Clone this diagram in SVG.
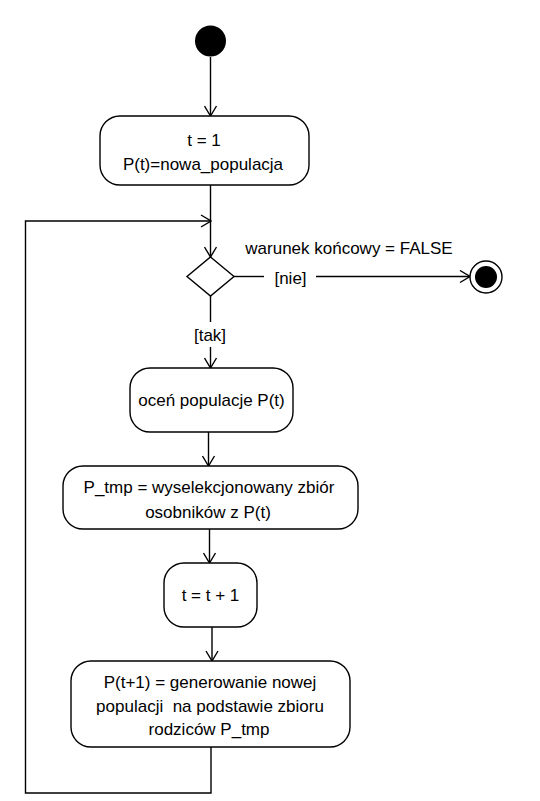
<svg xmlns="http://www.w3.org/2000/svg" width="540" height="801" viewBox="0 0 540 801">
<style>
.box{fill:#fff;stroke:#000;stroke-width:1.4}
.ln{fill:none;stroke:#000;stroke-width:1.4}
text{font-family:"Liberation Sans",Arial,sans-serif;font-size:17px;fill:#000;text-anchor:middle;white-space:pre}
</style>
<defs>
<marker id="arr" viewBox="0 0 12 14" refX="11" refY="7" markerWidth="12" markerHeight="14" markerUnits="userSpaceOnUse" orient="auto">
<path d="M1,1 L11,7 L1,13" fill="none" stroke="#000" stroke-width="1.4"/>
</marker>
</defs>
<rect width="540" height="801" fill="#fff"/>
<g id="connectors">
<path class="ln" d="M210.5,57 V116" marker-end="url(#arr)"/>
<path class="ln" d="M210.5,185 V257" marker-end="url(#arr)"/>
<path class="ln" d="M234,276.5 H264"/>
<path class="ln" d="M316,276.5 H470" marker-end="url(#arr)"/>
<path class="ln" d="M210.5,296 V322"/>
<path class="ln" d="M210.5,347 V368" marker-end="url(#arr)"/>
<path class="ln" d="M208.5,432 V466" marker-end="url(#arr)"/>
<path class="ln" d="M209.5,529 V563" marker-end="url(#arr)"/>
<path class="ln" d="M212,627 V661" marker-end="url(#arr)"/>
<path class="ln" d="M211,747 V793 H25.5 V221 H211" marker-end="url(#arr)"/>
<text x="349" y="254">warunek końcowy = FALSE</text>
<text x="290.5" y="284">[nie]</text>
<text x="210" y="341">[tak]</text>
</g>
<g id="start"><circle cx="210.5" cy="41" r="15.5" fill="#000"/></g>
<g id="init">
<rect class="box" x="100" y="116" width="209" height="69" rx="20"/>
<text x="204" y="146">t = 1</text>
<text x="203" y="170">P(t)=nowa_populacja</text>
</g>
<g id="decision"><path class="box" d="M210.5,257 L234,276.5 L210.5,296 L187,276.5 Z"/></g>
<g id="end">
<circle cx="486" cy="277" r="16" fill="#fff" stroke="#000" stroke-width="1.4"/>
<circle cx="486" cy="277" r="11" fill="#000"/>
</g>
<g id="evaluate">
<rect class="box" x="130" y="368" width="163" height="64" rx="20"/>
<text x="211.5" y="406">oceń populacje P(t)</text>
</g>
<g id="select">
<rect class="box" x="63" y="466" width="295" height="63" rx="20"/>
<text x="209" y="493">P_tmp = wyselekcjonowany zbiór</text>
<text x="208" y="518">osobników z P(t)</text>
</g>
<g id="increment">
<rect class="box" x="164" y="563" width="93" height="64" rx="20"/>
<text x="210.5" y="601">t = t + 1</text>
</g>
<g id="generate">
<rect class="box" x="71" y="661" width="279" height="86" rx="20"/>
<text x="210" y="688">P(t+1) = generowanie nowej</text>
<text x="210" y="712">populacji  na podstawie zbioru</text>
<text x="209" y="735">rodziców P_tmp</text>
</g>
</svg>
